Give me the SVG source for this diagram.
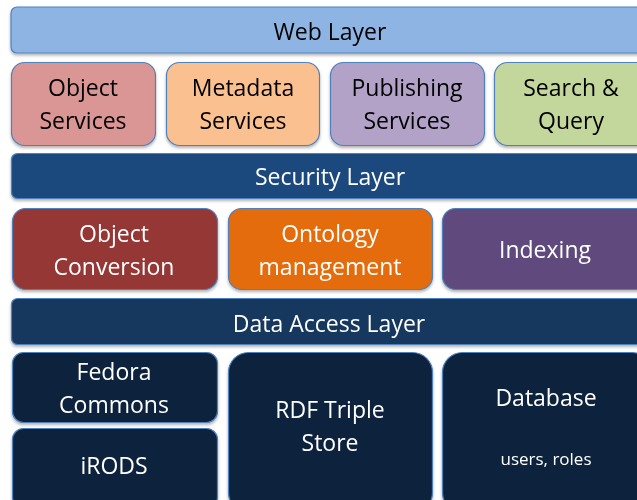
<svg xmlns="http://www.w3.org/2000/svg" width="637" height="500" viewBox="0 0 637 500">
<style>
text{font-family:"Open Sans","Liberation Sans",sans-serif;font-size:23px;text-anchor:middle}
.d{fill:#000}
.l{fill:#fff}
.b{stroke:#4F81BD;stroke-width:1.2}
.sm{font-size:17px}
</style>
<defs>
<filter id="sh" x="-5%" y="-5%" width="110%" height="120%">
<feDropShadow dx="0" dy="2" stdDeviation="1.5" flood-color="#000" flood-opacity="0.3"/>
</filter>
</defs>
<rect width="637" height="500" fill="#fff"/>
<g id="web-layer" filter="url(#sh)">
<rect class="b" x="11" y="7" width="640" height="46" rx="6" fill="#8EB4E3"/>
<text class="d" x="330" y="40">Web Layer</text>
</g>
<g id="object-services" filter="url(#sh)">
<rect class="b" x="11.5" y="62.5" width="144" height="83" rx="13" fill="#D99694"/>
<text class="d" x="83" y="96">Object</text>
<text class="d" x="83" y="129">Services</text>
</g>
<g id="metadata-services" filter="url(#sh)">
<rect class="b" x="166.5" y="62.5" width="153" height="83" rx="13" fill="#FAC090"/>
<text class="d" x="243" y="96">Metadata</text>
<text class="d" x="243" y="129">Services</text>
</g>
<g id="publishing-services" filter="url(#sh)">
<rect class="b" x="330.5" y="62.5" width="154" height="83" rx="13" fill="#B3A2C7"/>
<text class="d" x="407" y="96">Publishing</text>
<text class="d" x="407" y="129">Services</text>
</g>
<g id="search-query" filter="url(#sh)">
<rect class="b" x="494.5" y="62.5" width="160" height="83" rx="13" fill="#C3D69B"/>
<text class="d" x="571" y="96">Search &amp;</text>
<text class="d" x="571" y="129">Query</text>
</g>
<g id="security-layer" filter="url(#sh)">
<rect class="b" x="11.5" y="153.5" width="640" height="45" rx="6" fill="#1F497D"/>
<text class="l" x="330" y="185">Security Layer</text>
</g>
<g id="object-conversion" filter="url(#sh)">
<rect class="b" x="12.5" y="208.5" width="205" height="81" rx="13" fill="#953735"/>
<text class="l" x="114" y="242">Object</text>
<text class="l" x="114" y="275">Conversion</text>
</g>
<g id="ontology-management" filter="url(#sh)">
<rect class="b" x="228.5" y="208.5" width="204" height="81" rx="13" fill="#E46C0A"/>
<text class="l" x="330" y="242">Ontology</text>
<text class="l" x="330" y="275">management</text>
</g>
<g id="indexing" filter="url(#sh)">
<rect class="b" x="442.5" y="208.5" width="210" height="81" rx="13" fill="#604A7B"/>
<text class="l" x="545" y="258">Indexing</text>
</g>
<g id="data-access-layer" filter="url(#sh)">
<rect class="b" x="11.5" y="298.5" width="640" height="46" rx="6" fill="#17375E"/>
<text class="l" x="329" y="332">Data Access Layer</text>
</g>
<g id="fedora-commons" filter="url(#sh)">
<rect class="b" x="12.5" y="352.5" width="205" height="70" rx="11" fill="#10243E"/>
<text class="l" x="114" y="380">Fedora</text>
<text class="l" x="114" y="413">Commons</text>
</g>
<g id="irods" filter="url(#sh)">
<rect class="b" x="12.5" y="428.5" width="205" height="80" rx="11" fill="#10243E"/>
<text class="l" x="114" y="474">iRODS</text>
</g>
<g id="rdf-triple-store" filter="url(#sh)">
<rect class="b" x="228.5" y="352.5" width="204" height="160" rx="20" fill="#10243E"/>
<text class="l" x="330" y="418">RDF Triple</text>
<text class="l" x="330" y="451">Store</text>
</g>
<g id="database" filter="url(#sh)">
<rect class="b" x="442.5" y="352.5" width="210" height="160" rx="20" fill="#10243E"/>
<text class="l" x="546" y="406">Database</text>
<text class="l sm" x="546" y="465">users, roles</text>
</g>
<g id="connectors"></g>
</svg>
